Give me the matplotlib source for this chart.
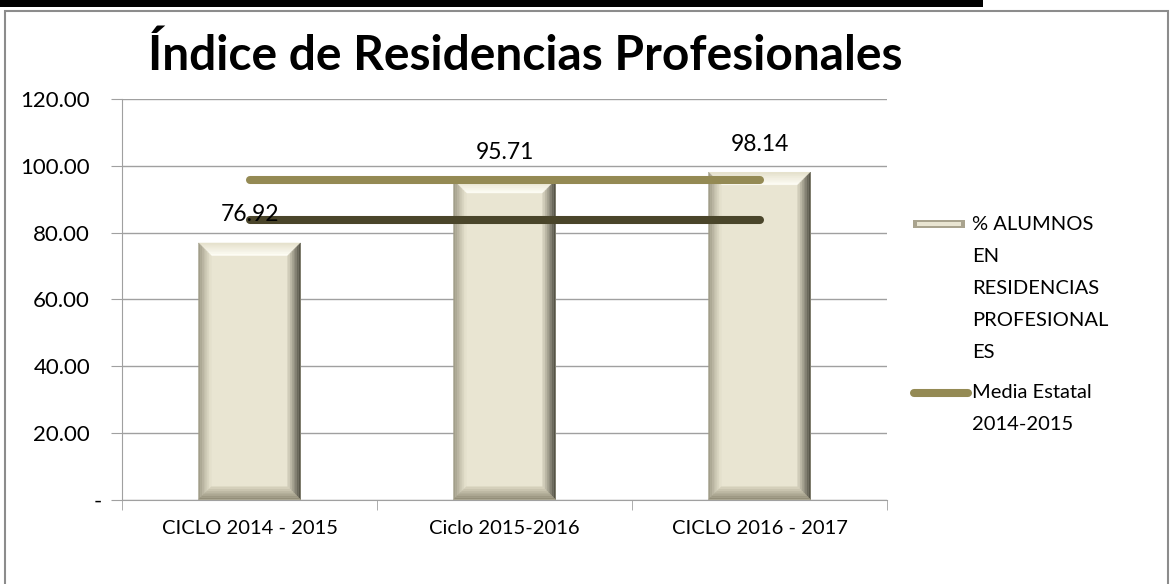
import numpy as np
import matplotlib.pyplot as plt
from matplotlib.patches import Rectangle, Polygon
from matplotlib.lines import Line2D
from matplotlib.colors import to_rgb
from matplotlib.transforms import ScaledTranslation

plt.rcParams['font.family'] = ['Lato', 'DejaVu Sans']

# Data
ciclos = ['CICLO 2014 - 2015', 'Ciclo 2015-2016', 'CICLO 2016 - 2017']
alumnos = [76.92, 95.71, 98.14]
media_estatal = [95.9, 95.9, 95.9]
media_nacional = [83.7, 83.7, 83.7]
yticks = [0, 20, 40, 60, 80, 100, 120]
ytick_labels = ['-', '20.00', '40.00', '60.00', '80.00', '100.00', '120.00']

bar_col = '#E9E5D2'
olive = '#948A54'
dark = '#4A452A'

fig = plt.figure(figsize=(11.72, 5.84), dpi=100)
ax = fig.add_axes([122/1172, 1 - 499.5/584, (887 - 122)/1172, (499.5 - 99.3)/584])

x = np.arange(len(ciclos))
bw = 0.4
bars = ax.bar(x, alumnos, width=bw, color=bar_col, zorder=2, linewidth=0)


def mix(c1, c2, t):
    a, b = np.array(to_rgb(c1)), np.array(to_rgb(c2))
    return tuple(a + (b - a) * t)


# bevel edges on each bar, drawn as gradient bands
bx, by = 0.05, 3.8
n = 7
edges = {'top': ('#E4E0CA', '#FFFEF7'), 'left': ('#9D9884', bar_col),
         'right': ('#4C4A3F', '#DAD6C2'), 'bottom': ('#8E8974', '#D9D4BF')}
for b in bars:
    x0, x1 = b.get_x(), b.get_x() + b.get_width()
    y1 = b.get_height()
    for k in range(n):
        t0, t1 = k / n, (k + 1) / n
        tm = (t0 + t1) / 2
        polys = {
            'top': [(x0 + bx*t0, y1 - by*t0), (x1 - bx*t0, y1 - by*t0),
                    (x1 - bx*t1, y1 - by*t1), (x0 + bx*t1, y1 - by*t1)],
            'left': [(x0 + bx*t0, by*t0), (x0 + bx*t0, y1 - by*t0),
                     (x0 + bx*t1, y1 - by*t1), (x0 + bx*t1, by*t1)],
            'right': [(x1 - bx*t0, by*t0), (x1 - bx*t0, y1 - by*t0),
                      (x1 - bx*t1, y1 - by*t1), (x1 - bx*t1, by*t1)],
            'bottom': [(x0 + bx*t0, by*t0), (x1 - bx*t0, by*t0),
                       (x1 - bx*t1, by*t1), (x0 + bx*t1, by*t1)],
        }
        for side, pts in polys.items():
            c = mix(edges[side][0], edges[side][1], tm)
            ax.add_patch(Polygon(pts, closed=True, facecolor=c, edgecolor=c,
                                 lw=0.3, zorder=2.5))

ax.plot(x, media_nacional, color=dark, lw=5.8, solid_capstyle='round', zorder=3)
ax.plot(x, media_estatal, color=olive, lw=5.8, solid_capstyle='round', zorder=3)

for xi, v in zip(x, alumnos):
    ax.text(xi, v + 5.3, f'{v:.2f}', ha='center', va='bottom', fontsize=16.5, zorder=4)

ax.set_xlim(-0.5, 2.5)
ax.set_ylim(0, 120)
ax.set_yticks(yticks)
ax.set_yticklabels(ytick_labels, fontsize=16)
ax.set_xticks([-0.5, 0.5, 1.5, 2.5], minor=True)
ax.set_xticks(x)
ax.set_xticklabels(ciclos, fontsize=14.5)
ax.tick_params(axis='x', which='major', length=0, pad=15)
ax.tick_params(axis='x', which='minor', length=7, color='#A0A0A0', direction='out')
ax.tick_params(axis='y', length=8, color='#A0A0A0', pad=15)
# the "-" for zero sits a bit further right, as in the spreadsheet
zero_lab = ax.get_yticklabels()[0]
zero_lab.set_transform(zero_lab.get_transform() + ScaledTranslation(0.12, 0, fig.dpi_scale_trans))
ax.grid(axis='y', color='#A0A0A0', lw=1, zorder=0)
ax.set_axisbelow(True)
for s in ['top', 'right']:
    ax.spines[s].set_visible(False)
ax.spines['left'].set_color('#A0A0A0')
ax.spines['bottom'].set_color('#A0A0A0')

fig.text(525/1172, 1 - 56/584, 'Índice de Residencias Profesionales',
         ha='center', va='center', fontsize=34.5, fontweight='bold')


# legend drawn in figure pixels
def fx(px):
    return px / 1172


def fy(py):
    return 1 - py / 584


fig.add_artist(Rectangle((fx(913), fy(228)), fx(52), 8/584, color='#A9A38E', lw=0))
fig.add_artist(Rectangle((fx(917), fy(226)), fx(44), 4/584, color=bar_col, lw=0))
fig.add_artist(Line2D([fx(914), fx(968)], [fy(393), fy(393)], color=olive, lw=5.8,
                      solid_capstyle='round'))
leg1 = ['% ALUMNOS', 'EN', 'RESIDENCIAS', 'PROFESIONAL', 'ES']
for i, t in enumerate(leg1):
    fig.text(fx(972), fy(224 + 32 * i), t, va='center', ha='left', fontsize=14.5)
for i, t in enumerate(['Media Estatal', '2014-2015']):
    fig.text(fx(972), fy(393 + 31 * i), t, va='center', ha='left', fontsize=14.5)

# outer frame and black strip at the top
fig.add_artist(Rectangle((fx(5), -0.1), fx(1163), 1.1 - 11/584, fill=False,
                         edgecolor='#8C8C8C', lw=1.5))
fig.add_artist(Rectangle((0, fy(7)), fx(983), 7/584, color='black', lw=0))

fig.savefig('out.png', dpi=100)
